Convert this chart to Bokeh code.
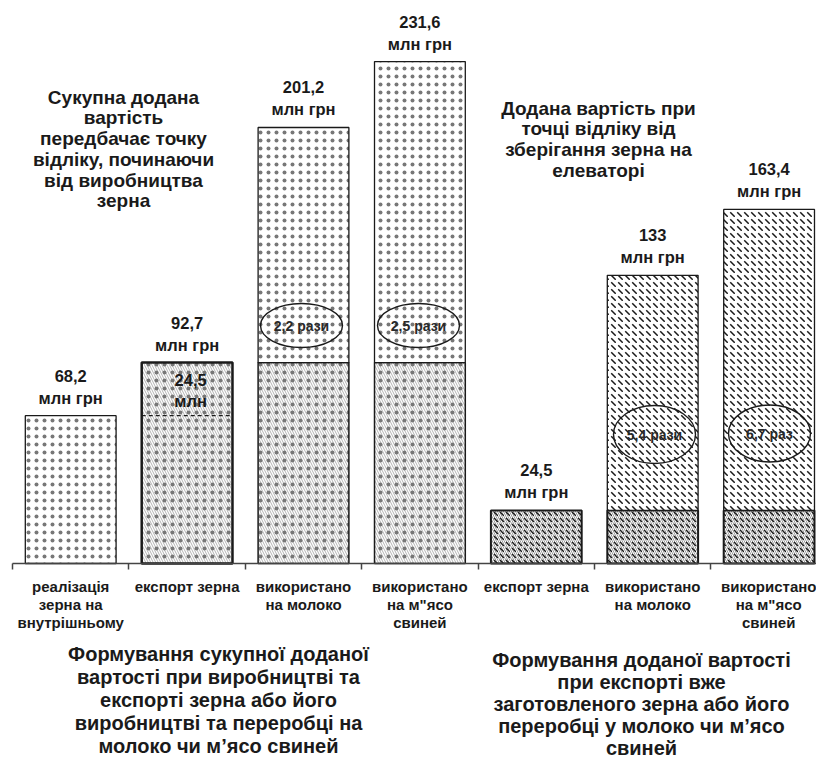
from bokeh.plotting import figure
from bokeh.models import Range1d, FixedTicker, LinearAxis
from bokeh.embed import file_html
from bokeh.resources import INLINE
from bokeh.core.properties import value

# ---------------- data ----------------
categories = [
    "реалізація\nзерна на\nвнутрішньому",
    "експорт зерна",
    "використано\nна молоко",
    "використано\nна м\"ясо\nсвиней",
    "експорт зерна",
    "використано\nна молоко",
    "використано\nна м\"ясо\nсвиней",
]
totals = [68.2, 92.7, 201.2, 231.6, 24.5, 133, 163.4]   # млн грн
domestic = 68.2          # dashed line inside the export bar
ratio_labels = ["2,2 рази", "2,5 рази", "5,4 рази", "6,7 раз"]
unit = "млн грн"
note_left = "Сукупна додана\nвартість\nпередбачає точку\nвідліку, починаючи\nвід виробництва\nзерна"
note_right = "Додана вартість при\nточці відліку від\nзберігання зерна на\nелеваторі"
title_left = ("Формування сукупної доданої\nвартості при виробництві та\n"
              "експорті зерна або його\nвиробництві та переробці на\nмолоко чи м’ясо свиней")
title_right = ("Формування доданої вартості\nпри експорті вже\n"
               "заготовленого зерна або його\nпереробці у молоко чи м’ясо\nсвиней")

# ---------------- layout helpers ----------------
PXX = 116.4      # px per category
PXY = 2.167      # px per unit
BASE = 563       # page y of zero line
LEFT = 12        # page x of first category boundary
W, H = 816, 760
x0 = -LEFT / PXX
y_top = BASE / PXY
y_bot = -(H - BASE) / PXY


def py(page_y):
    return (BASE - page_y) / PXY


def px(page_x):
    return (page_x - LEFT) / PXX


def fmt(v):
    return f"{v:g}".replace(".", ",")


FONT = value("Liberation Sans")
INK = "#1a1a1a"
BW = 0.78
xs = [i + 0.5 for i in range(len(totals))]

p = figure(width=W, height=H, x_range=Range1d(x0, x0 + W / PXX),
           y_range=Range1d(y_bot, y_top), output_backend="svg",
           toolbar_location=None, min_border=0,
           x_axis_location=None, y_axis_location=None)
p.outline_line_color = None
p.xgrid.visible = False
p.ygrid.visible = False

DOTS = dict(hatch_pattern=".", hatch_color="#777", hatch_scale=8, hatch_weight=0.4)

# ---- bar 1: domestic sale (dots)
p.vbar(x=xs[0:1], top=totals[0:1], bottom=0, width=BW, fill_color="white",
       line_color=INK, line_width=1.3, **DOTS)

# ---- group 1 lower part (grain export value): grey diagonal + dots
g1x = xs[1:4]
g1top = [totals[1]] * 3
p.vbar(x=g1x, top=g1top, bottom=0, width=BW, fill_color="white",
       hatch_pattern="\\", hatch_color="#b4b4b4", hatch_scale=5, hatch_weight=1,
       line_color=None)
p.vbar(x=g1x, top=g1top, bottom=0, width=BW, fill_color=None,
       line_color=INK, line_width=[2.5, 1.5, 1.5], **DOTS)

# ---- group 1 upper part: dots
p.vbar(x=xs[2:4], top=totals[2:4], bottom=totals[1], width=BW, fill_color="white",
       line_color=INK, line_width=1.3, **DOTS)

# dashed line at domestic level inside export bar
p.segment(x0=[xs[1] - BW / 2], x1=[xs[1] + BW / 2], y0=[domestic], y1=[domestic],
          line_color=INK, line_width=1.2, line_dash="4 3")

# ---- group 2 lower part (stored grain export): dark dashes + grey diagonals
g2x = xs[4:7]
g2top = [totals[4]] * 3
p.vbar(x=g2x, top=g2top, bottom=0, width=BW, fill_color="white",
       hatch_pattern="\\", hatch_color="#9c9c9c", hatch_scale=4, hatch_weight=1,
       line_color=None)
p.vbar(x=g2x, top=g2top, bottom=0, width=BW, fill_color=None,
       hatch_pattern="`", hatch_color="#1a1a1a", hatch_scale=6, hatch_weight=1.4,
       line_color=INK, line_width=2)

# ---- group 2 upper part: diagonal dashes
p.vbar(x=xs[5:7], top=totals[5:7], bottom=totals[4], width=BW, fill_color="white",
       hatch_pattern="`", hatch_color="#1a1a1a", hatch_scale=7, hatch_weight=1.5,
       line_color=INK, line_width=1.3)

# ---- value labels
LBL = dict(text_align="center", text_baseline="middle", text_font=FONT,
           text_font_style="bold", text_font_size="16.5px", text_color=INK)
p.text(x=xs, y=totals, text=[fmt(v) for v in totals], y_offset=-40, **LBL)
p.text(x=xs, y=totals, text=[unit] * len(totals), y_offset=-18, **LBL)

# inner label of export bar: value added above domestic sale
p.text(x=[xs[1] + 0.03], y=[totals[1]], text=[fmt(round(totals[1] - domestic, 1))],
       y_offset=17, **LBL)
p.text(x=[xs[1] + 0.03], y=[totals[1]], text=["млн"], y_offset=38, **LBL)

# ---- ratio ellipses
ex = [px(301), px(418), px(654), px(769)]
ey = [py(325), py(325), py(434), py(433)]
ew = [82 / PXX, 82 / PXX, 82 / PXX, 82 / PXX]
eh = [44 / PXY, 44 / PXY, 58 / PXY, 57 / PXY]
p.ellipse(x=ex, y=ey, width=ew, height=eh, fill_color=None,
          line_color=INK, line_width=1.4)
p.text(x=ex, y=ey, text=ratio_labels, text_align="center", text_baseline="middle",
       text_font=FONT, text_font_style="bold", text_font_size="14px", text_color="#2a2a2a")

# ---- notes
NOTE = dict(text_align="center", text_baseline="top", text_font=FONT,
            text_font_style="bold", text_font_size="19px", text_color=INK,
            text_line_height=0.99)
p.text(x=[px(123)], y=[py(86)], text=[note_left], **NOTE)
p.text(x=[px(598)], y=[py(97)], text=[note_right], **NOTE)

# ---- bottom titles
TITLE = dict(text_align="center", text_baseline="top", text_font=FONT,
             text_font_style="bold", text_font_size="20px", text_color=INK)
p.text(x=[px(218)], y=[py(642)], text=[title_left], text_line_height=1.05, **TITLE)
p.text(x=[px(641)], y=[py(648)], text=[title_right], text_line_height=1.0, **TITLE)

# ---- axes (at the zero line)
bound_axis = LinearAxis(ticker=FixedTicker(ticks=list(range(len(totals) + 1))),
                        major_label_overrides={i: "" for i in range(len(totals) + 1)},
                        bounds=(0, len(totals) + 0.5),
                        axis_line_color="#444", axis_line_width=1.5,
                        major_tick_line_color="#444", major_tick_line_width=1.5,
                        major_tick_in=0, major_tick_out=6,
                        minor_tick_line_color=None)
p.add_layout(bound_axis, "below")
bound_axis.fixed_location = 0

label_axis = LinearAxis(ticker=FixedTicker(ticks=xs),
                        major_label_overrides={x: c for x, c in zip(xs, categories)},
                        axis_line_color=None, major_tick_line_color=None,
                        minor_tick_line_color=None, major_tick_in=0, major_tick_out=0,
                        major_label_standoff=14,
                        major_label_text_font="Liberation Sans",
                        major_label_text_font_style="bold",
                        major_label_text_font_size="15px",
                        major_label_text_color=INK,
                        major_label_text_line_height=1.085)
p.add_layout(label_axis, "below")
label_axis.fixed_location = 0

open("out.html", "w").write(file_html(p, INLINE))
